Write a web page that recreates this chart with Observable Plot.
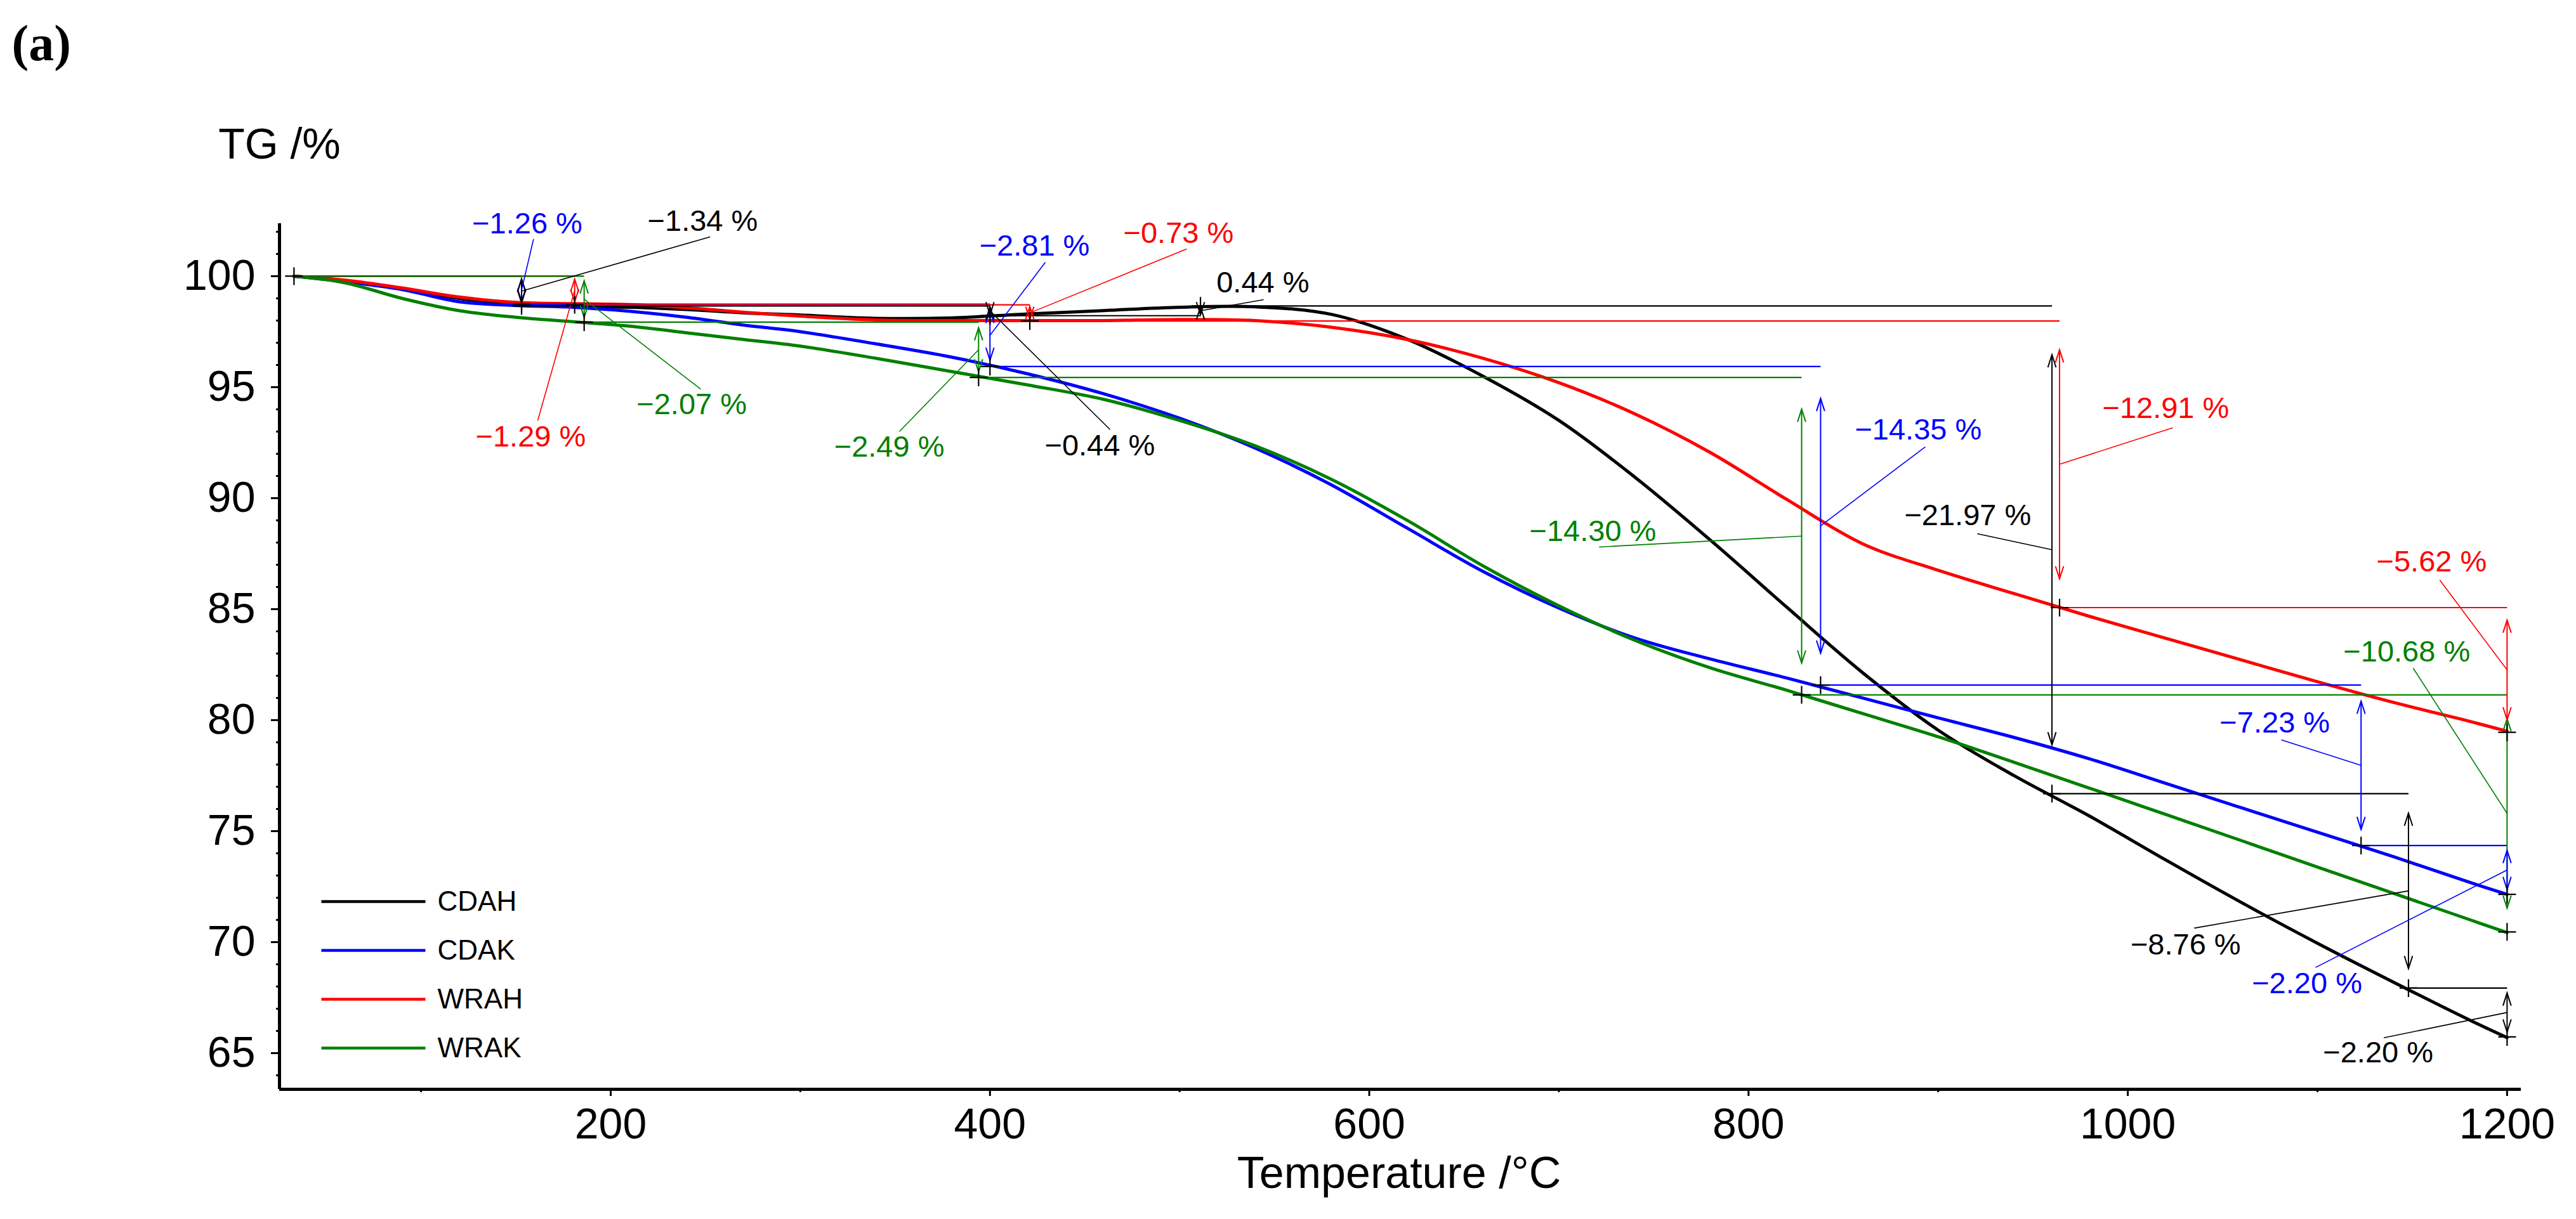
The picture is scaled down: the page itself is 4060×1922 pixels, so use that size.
<!DOCTYPE html>
<html>
<head>
<meta charset="utf-8">
<script src="https://cdn.jsdelivr.net/npm/d3@7"></script>
<script src="https://cdn.jsdelivr.net/npm/@observablehq/plot@0.6"></script>
<style>
  body { margin: 0; background: #fff; }
  #chart svg { display: block; }
</style>
</head>
<body>
<div id="chart"></div>
<script>
// TG curves
const temp = [33, 60, 90, 120, 150, 180, 210, 240, 270, 300, 340, 380, 420, 460, 500, 540, 580, 620, 660, 700, 740, 780, 820, 860, 900, 940, 980, 1020, 1060, 1100, 1140, 1180, 1200];
const cdah = [100, 99.8, 99.42, 99.0, 98.72, 98.64, 98.6, 98.5, 98.35, 98.25, 98.1, 98.12, 98.3, 98.45, 98.6, 98.62, 98.28, 97.16, 95.49, 93.5, 90.95, 88.1, 85.1, 82.15, 79.55, 77.5, 75.67, 73.7, 71.78, 69.95, 68.2, 66.5, 65.7];
const cdak = [100, 99.75, 99.4, 98.85, 98.68, 98.6, 98.42, 98.15, 97.8, 97.5, 96.95, 96.35, 95.6, 94.7, 93.6, 92.25, 90.6, 88.65, 86.7, 85.05, 83.7, 82.75, 81.9, 81.0, 80.1, 79.22, 78.25, 77.15, 76.05, 74.95, 73.85, 72.7, 72.15];
const wrah = [100, 99.82, 99.47, 99.06, 98.82, 98.76, 98.72, 98.58, 98.38, 98.2, 98.03, 98.0, 98.0, 98.0, 98.05, 98.0, 97.7, 97.15, 96.3, 95.2, 93.8, 92.05, 89.95, 87.95, 86.75, 85.7, 84.67, 83.69, 82.71, 81.73, 80.8, 79.95, 79.5];
const wrak = [100, 99.7, 99.0, 98.45, 98.15, 97.95, 97.75, 97.45, 97.15, 96.85, 96.3, 95.7, 95.1, 94.45, 93.5, 92.35, 90.85, 89.0, 86.95, 85.15, 83.6, 82.35, 81.35, 80.3, 79.25, 78.1, 76.93, 75.75, 74.57, 73.38, 72.2, 71.02, 70.43];

const series = ["CDAH", "CDAK", "WRAH", "WRAK"];
const colors = ["#000000", "#0000ff", "#ff0000", "#008000"];

// mass-change steps
const stepSeries = ["CDAK", "CDAH", "WRAH", "WRAK", "CDAK", "WRAH", "CDAH", "CDAH", "WRAK", "WRAK", "CDAK", "CDAH", "WRAH", "WRAH", "WRAK", "CDAK", "CDAH", "CDAK", "CDAH"];
const stepTemp = [153, 153, 181, 186, 400, 421, 400, 511, 394, 828, 838, 960, 964, 1200, 1200, 1123, 1148, 1200, 1200];
const stepFrom = [100, 100, 100, 100, 98.74, 98.71, 98.66, 98.22, 97.93, 95.44, 95.93, 98.66, 97.98, 85.07, 81.14, 81.58, 76.69, 74.35, 67.93];
const stepTo = [98.74, 98.66, 98.71, 97.93, 95.93, 97.98, 98.22, 98.66, 95.44, 81.14, 81.58, 76.69, 85.07, 79.45, 70.46, 74.35, 67.93, 72.15, 65.73];
const stepText = ["−1.26 %", "−1.34 %", "−1.29 %", "−2.07 %", "−2.81 %", "−0.73 %", "−0.44 %", "0.44 %", "−2.49 %", "−14.30 %", "−14.35 %", "−21.97 %", "−12.91 %", "−5.62 %", "−10.68 %", "−7.23 %", "−8.76 %", "−2.20 %", "−2.20 %"];
// where each label sits, and where its leader starts (temperature, TG)
const labelTemp = [156, 248.5, 157.8, 242.7, 423.5, 499.4, 457.9, 543.9, 346.9, 717.9, 889.5, 915.6, 1020, 1160.2, 1147.1, 1077.5, 1030.5, 1094.5, 1132];
const labelTG = [102.37, 102.46, 92.76, 94.2, 101.37, 101.94, 92.37, 99.71, 92.29, 88.51, 93.06, 89.2, 94.03, 87.14, 83.07, 79.86, 69.88, 68.13, 65.0];
const leaderTemp = [159.3, 252.4, 161.5, 247.5, 429.2, 503.8, 463.3, 544.3, 352.2, 721.2, 893.2, 920.6, 1023.7, 1164.5, 1150.5, 1080.9, 1035, 1099, 1135];
const leaderTG = [101.67, 101.77, 93.49, 94.91, 100.63, 101.23, 93.09, 98.94, 93.0, 87.8, 92.31, 88.4, 93.17, 86.31, 82.34, 79.11, 70.63, 68.86, 65.69];

const xTicks = [200, 400, 600, 800, 1000, 1200];
const yTicks = [65, 70, 75, 80, 85, 90, 95, 100];

const curveValues = [cdah, cdak, wrah, wrak];
const curves = series.flatMap((s, i) => temp.map((t, j) => ({series: s, t, v: curveValues[i][j]})));

const steps = stepSeries.map((s, i) => {
  const hi = Math.max(stepFrom[i], stepTo[i]);
  const lo = Math.min(stepFrom[i], stepTo[i]);
  const inset = 0.1 * (hi - lo);
  return {
    series: s, t: stepTemp[i], from: stepFrom[i], to: stepTo[i], text: stepText[i],
    top: hi - inset, bottom: lo + inset, mid: (hi + lo) / 2,
    lt: labelTemp[i], lv: labelTG[i], kt: leaderTemp[i], kv: leaderTG[i]
  };
});

// horizontal reference level before each step
const refLines = series.flatMap((s) => {
  let prev = temp[0];
  return steps.filter((d) => d.series === s).sort((a, b) => a.t - b.t).map((d) => {
    const r = {series: s, x1: prev, x2: d.t, y: d.from};
    prev = d.t;
    return r;
  });
});
const crosses = [{t: temp[0], v: 100}, ...steps.map((d) => ({t: d.t, v: d.to}))];

// small path symbols
const radius = (size) => Math.sqrt(size / Math.PI);
const plus = {draw(ctx, size) { const r = radius(size); ctx.moveTo(-r, 0); ctx.lineTo(r, 0); ctx.moveTo(0, -r); ctx.lineTo(0, r); }};
const headUp = {draw(ctx, size) { const r = radius(size); ctx.moveTo(-0.32 * r, r); ctx.lineTo(0, 0); ctx.lineTo(0.32 * r, r); }};
const headDown = {draw(ctx, size) { const r = radius(size); ctx.moveTo(-0.32 * r, -r); ctx.lineTo(0, 0); ctx.lineTo(0.32 * r, -r); }};
const dash = {draw(ctx, size) { const r = radius(size); ctx.moveTo(-r, 0); ctx.lineTo(r, 0); }};

const xDomain = [25.35, 1207.4];
const yDomain = [63.37, 102.37];

const legend = series.flatMap((s, i) => [
  Plot.dot([s], {frameAnchor: "bottom-left", dx: 148, dy: -296 + 77 * i, symbol: dash, r: 82, fill: "none", stroke: colors[i], strokeWidth: 4.5}),
  Plot.text([s], {frameAnchor: "bottom-left", dx: 249, dy: -296 + 77 * i, text: (d) => d, textAnchor: "start", lineAnchor: "middle", fontSize: 44, fill: "black"})
]);

let chart = Plot.plot({
  width: 4060,
  height: 1922,
  marginLeft: 440,
  marginRight: 87,
  marginTop: 352,
  marginBottom: 205,
  style: {fontFamily: "'Liberation Sans', Arial, sans-serif", background: "#fff"},
  x: {domain: xDomain},
  y: {domain: yDomain},
  color: {domain: series, range: colors},
  marks: [
    Plot.axisY({ticks: yTicks, tickSize: 13, tickPadding: 25, fontSize: 68, strokeWidth: 3, tickFormat: d3.format("d"), label: null}),
    Plot.axisY({ticks: d3.range(64, 103), tickSize: 5, strokeWidth: 3, tickFormat: () => "", label: null}),
    Plot.axisX({ticks: xTicks, tickSize: 11, tickPadding: 18, fontSize: 68, strokeWidth: 3, tickFormat: d3.format("d"), label: null}),
    Plot.axisX({ticks: [100, 300, 500, 700, 900, 1100], tickSize: 5, strokeWidth: 3, tickFormat: () => "", label: null}),
    Plot.ruleX([xDomain[0]], {strokeWidth: 5}),
    Plot.ruleY([yDomain[0]], {strokeWidth: 5}),
    Plot.text(["TG /%"], {frameAnchor: "top-left", dy: -124, textAnchor: "middle", lineAnchor: "middle", fontSize: 68, fill: "black"}),
    Plot.text(["Temperature /°C"], {frameAnchor: "bottom", dx: -2, dy: 133, lineAnchor: "middle", fontSize: 70, fill: "black"}),
    Plot.text(["(a)"], {frameAnchor: "top-left", dx: -422, dy: -283, textAnchor: "start", lineAnchor: "middle", fontFamily: "'Liberation Serif', 'DejaVu Serif', serif", fontWeight: "bold", fontSize: 80, fill: "black"}),

    Plot.line(curves, {x: "t", y: "v", z: "series", stroke: "series", strokeWidth: 5, curve: "catmull-rom"}),

    Plot.link(refLines, {x1: "x1", x2: "x2", y1: "y", y2: "y", stroke: "series", strokeWidth: 2.2}),
    Plot.link(steps, {x1: "t", x2: "t", y1: "top", y2: "bottom", stroke: "series", strokeWidth: 2}),
    Plot.dot(steps, {x: "t", y: "top", symbol: headUp, r: 20, fill: "none", stroke: "series", strokeWidth: 2}),
    Plot.dot(steps, {x: "t", y: "bottom", symbol: headDown, r: 20, fill: "none", stroke: "series", strokeWidth: 2}),
    Plot.link(steps, {x1: "kt", y1: "kv", x2: "t", y2: "mid", stroke: "series", strokeWidth: 1.6}),
    Plot.text(steps, {x: "lt", y: "lv", text: "text", fill: "series", fontSize: 47, textAnchor: "middle", lineAnchor: "middle"}),
    Plot.dot(crosses, {x: "t", y: "v", symbol: plus, r: 14, fill: "none", stroke: "black", strokeWidth: 2.2}),

    ...legend
  ]
});
d3.select("#chart").append(() => chart);
</script>
</body>
</html>
